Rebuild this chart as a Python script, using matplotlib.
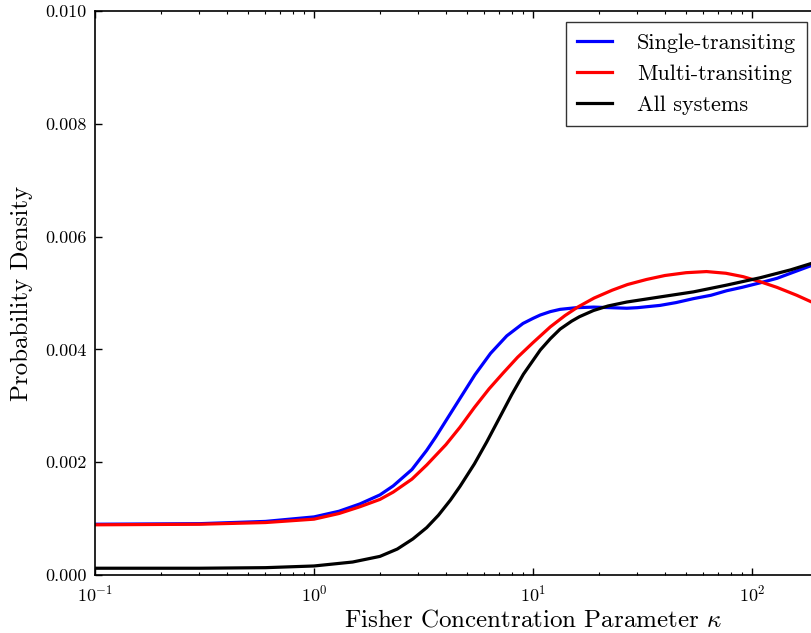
import matplotlib
matplotlib.use("Agg")
import matplotlib.pyplot as plt
from matplotlib.ticker import FormatStrFormatter, FixedLocator

plt.rcParams['font.family'] = ['cmr10', 'DejaVu Serif']
plt.rcParams['mathtext.fontset'] = 'cm'
plt.rcParams['axes.unicode_minus'] = False
plt.rcParams['axes.formatter.use_mathtext'] = True

# Fisher concentration parameter kappa and probability density, per sample
kappa_single = [0.1, 0.3, 0.6, 1.0, 1.3, 1.62, 2.0, 2.3, 2.8, 3.27, 3.6, 4.04, 4.64,
                5.43, 6.4, 7.59, 9.0, 10.0, 10.8, 12.0, 13.3, 15.8, 18.9, 22.5, 26.8,
                30, 38, 45, 54, 65, 76.6, 90, 108.8, 130, 150, 200]
dens_single = [0.00090, 0.00091, 0.00095, 0.00103, 0.00113, 0.00126, 0.00142, 0.00158,
               0.00187, 0.00221, 0.00245, 0.00276, 0.00313, 0.00355, 0.00393, 0.00424,
               0.00446, 0.00455, 0.00461, 0.00467, 0.00471, 0.00474, 0.00475, 0.00474,
               0.00473, 0.00474, 0.00478, 0.00483, 0.00490, 0.00496, 0.00504, 0.00510,
               0.00518, 0.00526, 0.00535, 0.00553]

kappa_multi = [0.1, 0.3, 0.6, 1.0, 1.3, 1.62, 2.0, 2.3, 2.8, 3.27, 4.0, 4.64, 5.4,
               6.3, 7.3, 8.5, 10, 12, 14, 16, 19, 23, 27, 33, 40, 50, 62, 76, 91,
               109, 130, 160, 200]
dens_multi = [0.00089, 0.00090, 0.00093, 0.00099, 0.00109, 0.00121, 0.00134, 0.00147,
              0.00170, 0.00195, 0.00231, 0.00262, 0.00297, 0.00330, 0.00358, 0.00386,
              0.00412, 0.00440, 0.00460, 0.00475, 0.00491, 0.00505, 0.00515, 0.00524,
              0.00531, 0.00536, 0.00538, 0.00535, 0.00529, 0.00520, 0.00510, 0.00496,
              0.00479]

kappa_all = [0.1, 0.3, 0.6, 1.0, 1.5, 2.0, 2.4, 2.83, 3.27, 3.7, 4.2, 4.64, 5.4,
             6.15, 6.95, 8.0, 9.04, 10.8, 12, 13.3, 15, 16.3, 18.9, 22, 26.8, 38, 54,
             76.6, 108.8, 150, 200]
dens_all = [0.00012, 0.00012, 0.00013, 0.00016, 0.00023, 0.00033, 0.00046, 0.00064,
            0.00084, 0.00106, 0.00133, 0.00157, 0.00197, 0.00236, 0.00275, 0.00320,
            0.00356, 0.00399, 0.00419, 0.00436, 0.00450, 0.00458, 0.00469, 0.00477,
            0.00484, 0.00493, 0.00502, 0.00514, 0.00527, 0.00541, 0.00556]

fig = plt.figure(figsize=(8.11, 6.33), dpi=100)
W, H = 811.0, 633.0
# the axes run on past the right edge of the figure (cropped plot)
ax = fig.add_axes([95 / W, 1 - 575 / H, (971 - 95) / W, (575 - 11) / H])

ax.plot(kappa_single, dens_single, color='blue', lw=2.3, label='Single-transiting')
ax.plot(kappa_multi, dens_multi, color='red', lw=2.3, label='Multi-transiting')
ax.plot(kappa_all, dens_all, color='black', lw=2.3, label='All systems')

ax.set_xscale('log')
ax.set_xlim(0.1, 1000)
ax.set_ylim(0, 0.010)
ax.xaxis.set_major_locator(FixedLocator([0.1, 1, 10, 100]))
ax.set_yticks([0.000, 0.002, 0.004, 0.006, 0.008, 0.010])
ax.yaxis.set_major_formatter(FormatStrFormatter('%.3f'))

ax.tick_params(which='both', direction='in', top=True, right=True, labelsize=13)
ax.tick_params(which='major', length=5, width=1, pad=6)
ax.tick_params(which='minor', length=2.5, width=0.8)
for s in ax.spines.values():
    s.set_linewidth(1.2)

ax.set_xlabel(r'Fisher Concentration Parameter $\kappa$', fontsize=18, labelpad=4)
ax.set_ylabel('Probability Density', fontsize=18, labelpad=9)

leg = ax.legend(loc='upper right', bbox_to_anchor=(807 / W, 1 - 22 / H),
                bbox_transform=fig.transFigure, borderaxespad=0,
                fontsize=16, fancybox=False, handlelength=1.6, handletextpad=1.1,
                borderpad=0.5, labelspacing=0.52)
leg.get_frame().set_edgecolor('black')
leg.get_frame().set_linewidth(1.0)

fig.savefig('out.png', dpi=100)
